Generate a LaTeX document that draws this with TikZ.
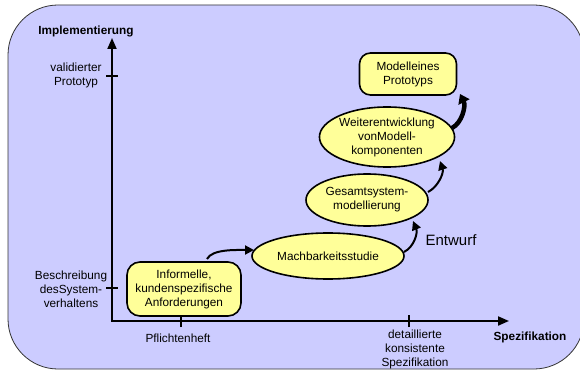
\documentclass[tikz,border=0pt]{standalone}
\usepackage{fontspec}
\setmainfont{Liberation Sans}
\usetikzlibrary{shapes.geometric,arrows.meta}
\definecolor{panel}{HTML}{CCCCFF}
\definecolor{stage}{HTML}{FFFF99}
\definecolor{rim}{HTML}{333333}

\begin{document}
\begin{tikzpicture}[x=1pt,y=-1pt,
  txt/.style={font=\fontsize{11.8}{14}\selectfont, align=center, inner sep=0pt},
  bold/.style={txt, font=\fontsize{11.8}{14}\selectfont\bfseries},
  axisline/.style={line width=2pt, line join=miter, {Triangle[length=11pt,width=9pt]}-{Triangle[length=11pt,width=9pt]}},
  tickmark/.style={line width=1.6pt},
  stagebox/.style={txt, draw, line width=1.6pt, fill=stage, rounded corners=13pt},
  stageell/.style={txt, ellipse, draw, line width=1.6pt, fill=stage},
  flow/.style={line width=2pt, -{Triangle[length=9pt,width=9pt]}},
  bigflow/.style={line width=4.5pt, -{Triangle[length=9pt,width=12pt]}},
]
\useasboundingbox (0,0) rectangle (580,371);

% background panel
\draw[rim, fill=panel, line width=0.8pt, rounded corners=50pt] (8,5) rectangle (584,369);

% axes
\coordinate (origin) at (112,321);
\coordinate (ytop) at (112,38);
\coordinate (xend) at (509,321);
\draw[axisline] (ytop) -- (origin) -- (xend);

% tick marks
\coordinate (yt1) at (112,76);
\coordinate (yt2) at (112,288);
\coordinate (xt1) at (181,321);
\coordinate (xt2) at (409,321);
\foreach \t in {yt1,yt2} \draw[tickmark] ([xshift=-6pt]\t) -- ([xshift=6pt]\t);
\foreach \t in {xt1,xt2} \draw[tickmark] ([yshift=-6pt]\t) -- ([yshift=6pt]\t);

% axis labels
\node[bold] (ylab) at (86,31) {Implementierung};
\node[bold] (xlab) at (530,337) {Spezifikation};
\node[txt] (yl1) at (76,75) {validierter\\Prototyp};
\node[txt] (yl2) at (71,289) {Beschreibung\\desSystem-\\verhaltens};
\node[txt] (xl1) at (178,338) {Pflichtenheft};
\node[txt] (xl2) at (415,349) {detaillierte\\konsistente\\Spezifikation};

% stages
\node[stagebox, minimum width=114pt, minimum height=54pt] (inf) at (184,289)
  {Informelle,\\kundenspezifische\\Anforderungen};
\node[stageell, minimum width=152pt, minimum height=46pt] (mach) at (328,256)
  {Machbarkeitsstudie};
\node[stageell, minimum width=122pt, minimum height=52pt] (ges) at (367,200)
  {Gesamtsystem-\\modellierung};
\node[stageell, minimum width=128pt, minimum height=60pt] (weit) at (387,137)
  {Weiterentwicklung\\vonModell-\\komponenten};
\node[stagebox, minimum width=97pt, minimum height=42pt, rounded corners=11pt] (proto) at (408,74)
  {Modelleines\\Prototyps};

% transitions
\draw[flow] ([xshift=23pt,yshift=30pt]inf.center) .. controls +(5,-10) and +(-18,0) ..
  ([xshift=-74pt,yshift=6pt]mach.center);
\draw[flow] ([xshift=76pt,yshift=4pt]mach.center) .. controls +(10,-5) and +(5,12) ..
  ([xshift=46pt,yshift=-21pt]ges.center);
\node[font=\fontsize{15}{18}\selectfont, inner sep=0pt] (entw) at (451,240) {Entwurf};
\draw[flow] ([xshift=61pt,yshift=8pt]ges.center) .. controls +(10,-5) and +(4,12) ..
  ([xshift=53pt,yshift=-24pt]weit.center);
\draw[bigflow] ([xshift=65pt,yshift=9pt]weit.center) .. controls +(10,-5) and +(6,12) ..
  ([xshift=52pt,yshift=-20pt]proto.center);
\end{tikzpicture}
\end{document}
